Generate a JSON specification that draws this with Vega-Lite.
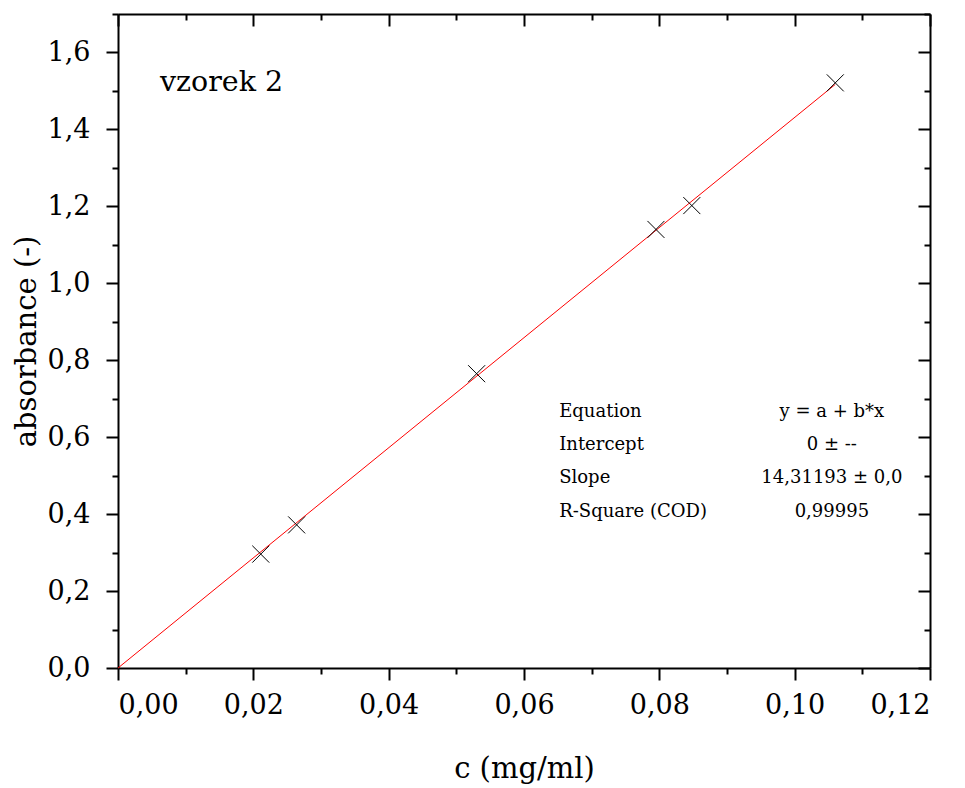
{
  "$schema": "https://vega.github.io/schema/vega-lite/v6.json",
  "autosize": "none",
  "width": 812,
  "height": 654,
  "padding": {"left": 118, "top": 14, "right": 35, "bottom": 120},
  "background": "white",
  "config": {
    "view": {"stroke": null},
    "font": "DejaVu Serif",
    "axis": {
      "grid": false,
      "domainColor": "black",
      "domainWidth": 2,
      "tickColor": "black",
      "tickWidth": 2,
      "labelFont": "DejaVu Serif",
      "labelFontSize": 27,
      "labelColor": "black",
      "titleFont": "DejaVu Serif",
      "titleFontSize": 29,
      "titleFontWeight": "normal",
      "titleColor": "black"
    }
  },
  "datasets": {
    "fit": [
      {"c": 0.0, "a": 0.0},
      {"c": 0.106, "a": 1.517}
    ],
    "meas": [
      {"c": 0.0211, "a": 0.296},
      {"c": 0.0264, "a": 0.372},
      {"c": 0.0530, "a": 0.765},
      {"c": 0.0795, "a": 1.140},
      {"c": 0.0848, "a": 1.202},
      {"c": 0.1060, "a": 1.521}
    ],
    "label": [
      {"c": 0.0062, "a": 1.522, "t": "vzorek 2"}
    ],
    "statnames": [
      {"c": 0.0652, "a": 0.6657, "t": "Equation"},
      {"c": 0.0652, "a": 0.5792, "t": "Intercept"},
      {"c": 0.0652, "a": 0.4935, "t": "Slope"},
      {"c": 0.0652, "a": 0.406, "t": "R-Square (COD)"}
    ],
    "statvals": [
      {"c": 0.1055, "a": 0.6657, "t": "y = a + b*x"},
      {"c": 0.1055, "a": 0.5792, "t": "0 ± --"},
      {"c": 0.1055, "a": 0.4935, "t": "14,31193 ± 0,0"},
      {"c": 0.1055, "a": 0.406, "t": "0,99995"}
    ]
  },
  "resolve": {"axis": {"x": "independent", "y": "independent"}},
  "layer": [
    {
      "data": {"name": "fit"},
      "mark": {"type": "line", "color": "#ff0000", "strokeWidth": 1},
      "encoding": {
        "x": {
          "field": "c", "type": "quantitative",
          "scale": {"domain": [0, 0.12], "nice": false, "zero": false},
          "axis": {
            "orient": "bottom",
            "values": [0, 0.02, 0.04, 0.06, 0.08, 0.1, 0.12],
            "tickSize": 12,
            "labelPadding": 12,
            "labelExpr": "replace(format(datum.value, '.2f'), '.', ',')",
            "title": "c (mg/ml)",
            "titlePadding": 36
          }
        },
        "y": {
          "field": "a", "type": "quantitative",
          "scale": {"domain": [0, 1.7], "nice": false, "zero": false},
          "axis": {
            "orient": "left",
            "values": [0, 0.2, 0.4, 0.6, 0.8, 1.0, 1.2, 1.4, 1.6],
            "tickSize": 12,
            "labelPadding": 16,
            "labelExpr": "replace(format(datum.value, '.1f'), '.', ',')",
            "title": "absorbance (-)",
            "titlePadding": 6
          }
        }
      }
    },
    {
      "data": {"name": "meas"},
      "mark": {"type": "point", "shape": "M-1,-1L1,1M1,-1L-1,1", "filled": false, "stroke": "black", "strokeWidth": 1, "size": 289, "opacity": 1},
      "encoding": {
        "x": {
          "field": "c", "type": "quantitative",
          "axis": {
            "orient": "bottom",
            "values": [0.01, 0.03, 0.05, 0.07, 0.09, 0.11],
            "tickSize": 6, "labels": false, "domain": false, "title": null
          }
        },
        "y": {
          "field": "a", "type": "quantitative",
          "axis": {
            "orient": "left",
            "values": [0.1, 0.3, 0.5, 0.7, 0.9, 1.1, 1.3, 1.5, 1.7],
            "tickSize": 6, "labels": false, "domain": false, "title": null
          }
        }
      }
    },
    {
      "data": {"name": "label"},
      "mark": {"type": "text", "align": "left", "baseline": "middle", "fontSize": 28.5, "color": "black"},
      "encoding": {
        "x": {
          "field": "c", "type": "quantitative",
          "axis": {
            "orient": "top",
            "values": [0, 0.02, 0.04, 0.06, 0.08, 0.1, 0.12],
            "tickSize": -12, "labels": false, "domain": true, "title": null
          }
        },
        "y": {
          "field": "a", "type": "quantitative",
          "axis": {
            "orient": "right",
            "values": [0, 0.2, 0.4, 0.6, 0.8, 1.0, 1.2, 1.4, 1.6],
            "tickSize": -12, "labels": false, "domain": true, "title": null
          }
        },
        "text": {"field": "t"}
      }
    },
    {
      "data": {"name": "statnames"},
      "mark": {"type": "text", "align": "left", "baseline": "middle", "fontSize": 18, "color": "black"},
      "encoding": {
        "x": {
          "field": "c", "type": "quantitative",
          "axis": {
            "orient": "top",
            "values": [0.01, 0.03, 0.05, 0.07, 0.09, 0.11],
            "tickSize": -6, "labels": false, "domain": false, "title": null
          }
        },
        "y": {
          "field": "a", "type": "quantitative",
          "axis": {
            "orient": "right",
            "values": [0.1, 0.3, 0.5, 0.7, 0.9, 1.1, 1.3, 1.5, 1.7],
            "tickSize": -6, "labels": false, "domain": false, "title": null
          }
        },
        "text": {"field": "t"}
      }
    },
    {
      "data": {"name": "statvals"},
      "mark": {"type": "text", "align": "center", "baseline": "middle", "fontSize": 18, "color": "black"},
      "encoding": {
        "x": {"field": "c", "type": "quantitative", "axis": null},
        "y": {"field": "a", "type": "quantitative", "axis": null},
        "text": {"field": "t"}
      }
    }
  ]
}
